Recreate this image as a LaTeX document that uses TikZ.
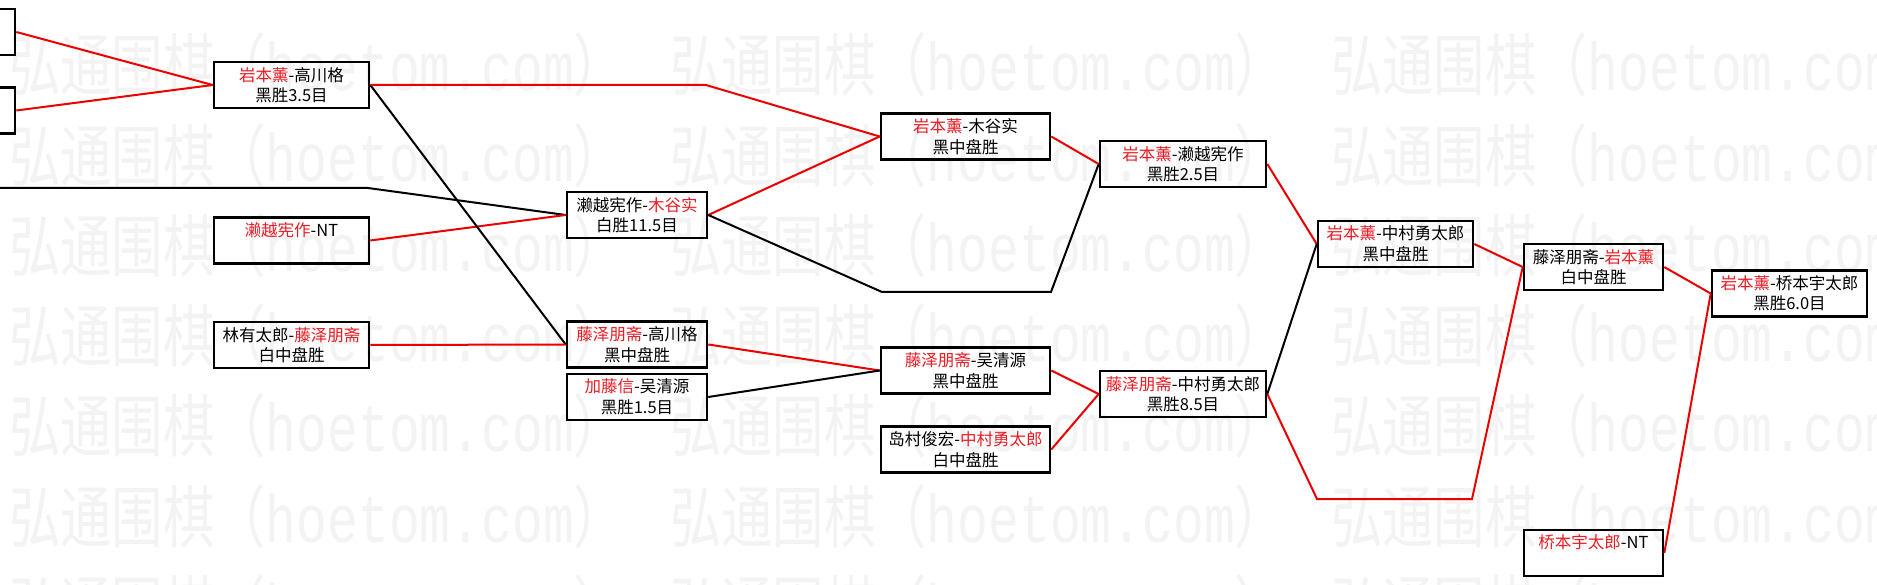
\documentclass[tikz,border=0pt]{standalone}
\usepackage{fontspec}
\setmainfont{Noto Sans CJK SC}
\newfontfamily\wmlat{Liberation Mono}
\usepackage{graphicx}
\definecolor{lnred}{RGB}{235,0,0}
\definecolor{txred}{RGB}{232,28,36}
\definecolor{wmgray}{RGB}{243,243,243}
\newcommand{\rd}[1]{\textcolor{txred}{#1}}
\newcommand{\wmtext}{\resizebox{616pt}{58pt}{弘通围棋（{\wmlat hoetom.com}）}}
\begin{document}
\begin{tikzpicture}[x=1pt,y=-1pt,
  box/.style={draw=black, line width=2.6pt, rectangle, inner sep=0pt, minimum height=46pt,
    align=center, font=\fontsize{16.5}{20.5}\selectfont, text=black},
  rline/.style={draw=lnred, line width=2pt},
  bline/.style={draw=black, line width=2pt},
  wmark/.style={anchor=west, inner sep=0pt, text=wmgray}]
\useasboundingbox (0,0) rectangle (1877,585);
\clip (0,0) rectangle (1877,585);
\fill[white] (0,0) rectangle (1877,585);
% watermark
\foreach \r in {0,...,6}{
  \foreach \c in {0,1,2}{
    \node[wmark] (wm-\r-\c) at ({9+661*\c},{65+90.3*\r}) {\wmtext};
  }
}
% nodes
\node[box, minimum width=155pt] (P1) at (-62.5,32) {};
\node[box, minimum width=155pt] (P2) at (-62.5,110.5) {};
\node[box, minimum width=155pt] (A) at (291.5,85) {\rd{岩本薰}-高川格\\黑胜3.5目};
\node[box, minimum width=155pt] (E) at (291.5,240.5) {\rd{濑越宪作}-NT\\\phantom{黑}};
\node[box, minimum width=155pt] (F) at (291.5,345) {林有太郎-\rd{藤泽朋斋}\\白中盘胜};
\node[box, minimum width=140pt] (D) at (637,215) {濑越宪作-\rd{木谷实}\\白胜11.5目};
\node[box, minimum width=140pt] (G) at (637,344.5) {\rd{藤泽朋斋}-高川格\\黑中盘胜};
\node[box, minimum width=140pt] (H) at (637,397) {\rd{加藤信}-吴清源\\黑胜1.5目};
\node[box, minimum width=169pt] (B) at (965.5,136.5) {\rd{岩本薰}-木谷实\\黑中盘胜};
\node[box, minimum width=169pt] (I) at (965.5,370.5) {\rd{藤泽朋斋}-吴清源\\黑中盘胜};
\node[box, minimum width=169pt] (J) at (965.5,449.5) {岛村俊宏-\rd{中村勇太郎}\\白中盘胜};
\node[box, minimum width=166pt] (C) at (1183,164) {\rd{岩本薰}-濑越宪作\\黑胜2.5目};
\node[box, minimum width=166pt] (K) at (1183,394) {\rd{藤泽朋斋}-中村勇太郎\\黑胜8.5目};
\node[box, minimum width=155pt] (L) at (1395.5,244) {\rd{岩本薰}-中村勇太郎\\黑中盘胜};
\node[box, minimum width=139pt] (M) at (1593.5,267) {藤泽朋斋-\rd{岩本薰}\\白中盘胜};
\node[box, minimum width=155pt] (N) at (1789.5,293.5) {\rd{岩本薰}-桥本宇太郎\\黑胜6.0目};
\node[box, minimum width=139pt] (O) at (1593.5,553) {\rd{桥本宇太郎}-NT\\\phantom{黑}};
% bend points
\coordinate (l0) at (-5,188);
\coordinate (l1) at (368,188);
\coordinate (ab) at (706,85);
\coordinate (dc1) at (882,292);
\coordinate (dc2) at (1051,292);
\coordinate (km1) at (1317,499);
\coordinate (km2) at (1472,499);
% connectors
\draw[rline] (P1.east) -- (A.west);
\draw[rline] (P2.east) -- (A.west);
\draw[bline] (l0) -- (l1) -- (D.west);
\draw[rline] (E.east) -- (D.west);
\draw[bline] (A.east) -- (G.west);
\draw[rline] (F.east) -- (G.west);
\draw[rline] (A.east) -- (ab) -- (B.west);
\draw[rline] (D.east) -- (B.west);
\draw[bline] (D.east) -- (dc1) -- (dc2) -- (C.west);
\draw[rline] (B.east) -- (C.west);
\draw[rline] (G.east) -- (I.west);
\draw[bline] (H.east) -- (I.west);
\draw[rline] (I.east) -- (K.west);
\draw[rline] (J.east) -- (K.west);
\draw[rline] (C.east) -- (L.west);
\draw[bline] (K.east) -- (L.west);
\draw[rline] (K.east) -- (km1) -- (km2) -- (M.west);
\draw[rline] (L.east) -- (M.west);
\draw[rline] (M.east) -- (N.west);
\draw[rline] (O.east) -- (N.west);
\end{tikzpicture}
\end{document}
